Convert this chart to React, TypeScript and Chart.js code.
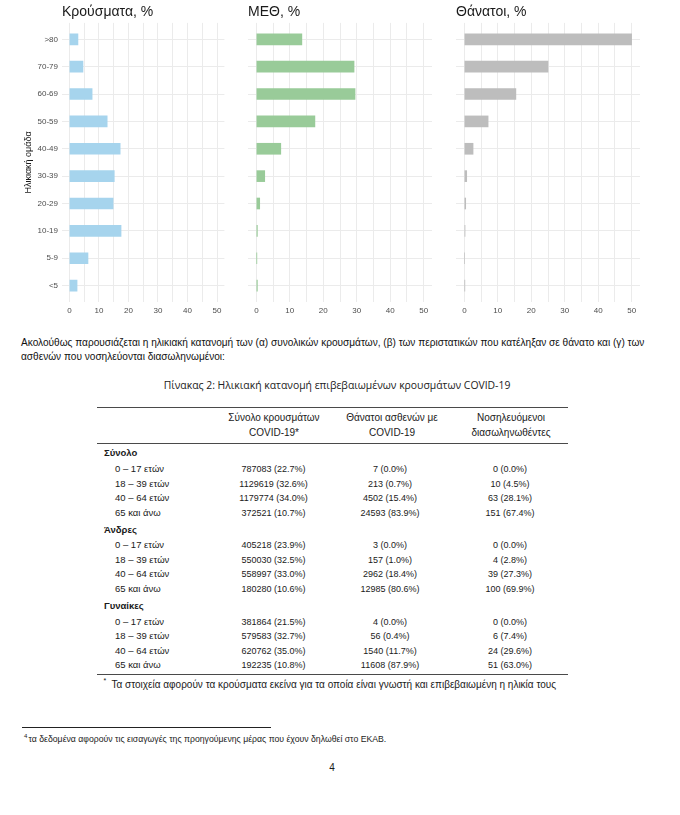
import React, { useEffect, useRef } from "react";
import { Chart, registerables } from "chart.js";

Chart.register(...registerables);

const FONT = "'Liberation Sans', Arial, sans-serif";

// ---- chart data ----
const ageGroups = [">80", "70-79", "60-69", "50-59", "40-49", "30-39", "20-29", "10-19", "5-9", "<5"];
const casesPct = [2.9, 4.6, 7.7, 12.8, 17.2, 15.2, 14.8, 17.5, 6.3, 2.6];
const icuPct = [13.6, 29.2, 29.5, 17.5, 7.3, 2.5, 1.0, 0.3, 0.1, 0.3];
const deathsPct = [50.0, 25.0, 15.4, 7.1, 2.6, 0.7, 0.4, 0.2, 0.0, 0.1];
const xGridValues = [0, 5, 10, 15, 20, 25, 30, 35, 40, 45, 50];
const panelTitles = ["Κρούσματα, %", "ΜΕΘ, %", "Θάνατοι, %"];
const yAxisTitle = "Ηλικιακή ομάδα";

// ---- table data ----
const tableGroups = ["Σύνολο", "Άνδρες", "Γυναίκες"];
const tableAges = ["0 – 17 ετών", "18 – 39 ετών", "40 – 64 ετών", "65 και άνω"];
const casesCount = [
  [787083, 1129619, 1179774, 372521],
  [405218, 550030, 558997, 180280],
  [381864, 579583, 620762, 192235],
];
const casesShare = [
  [22.7, 32.6, 34.0, 10.7],
  [23.9, 32.5, 33.0, 10.6],
  [21.5, 32.7, 35.0, 10.8],
];
const deathsCount = [
  [7, 213, 4502, 24593],
  [3, 157, 2962, 12985],
  [4, 56, 1540, 11608],
];
const deathsShare = [
  [0.0, 0.7, 15.4, 83.9],
  [0.0, 1.0, 18.4, 80.6],
  [0.0, 0.4, 11.7, 87.9],
];
const intubCount = [
  [0, 10, 63, 151],
  [0, 4, 39, 100],
  [0, 6, 24, 51],
];
const intubShare = [
  [0.0, 4.5, 28.1, 67.4],
  [0.0, 2.8, 27.3, 69.9],
  [0.0, 7.4, 29.6, 63.0],
];
const headerLines = [
  ["Σύνολο κρουσμάτων", "COVID-19*"],
  ["Θάνατοι ασθενών με", "COVID-19"],
  ["Νοσηλευόμενοι", "διασωληνωθέντες"],
];

const introLines = [
  "Ακολούθως παρουσιάζεται η ηλικιακή κατανομή των (α) συνολικών κρουσμάτων, (β) των περιστατικών που κατέληξαν σε θάνατο και (γ) των",
  "ασθενών που νοσηλεύονται διασωληνωμένοι:",
];
const captionText = "Πίνακας 2: Ηλικιακή κατανομή επιβεβαιωμένων κρουσμάτων COVID-19";
const tableNote = "Τα στοιχεία αφορούν τα κρούσματα εκείνα για τα οποία είναι γνωστή και επιβεβαιωμένη η ηλικία τους";
const pageNote = "τα δεδομένα αφορούν τις εισαγωγές της προηγούμενης μέρας που έχουν δηλωθεί στο ΕΚΑΒ.";

type PanelProps = {
  title: string;
  values: number[];
  color: string;
  showY: boolean;
  left: number;
  width: number;
};

const CH = 316;

function Panel({ title, values, color, showY, left, width }: PanelProps) {
  const ref = useRef<HTMLCanvasElement>(null);
  useEffect(() => {
    const chart = new Chart(ref.current!, {
      type: "bar",
      data: {
        datasets: [
          {
            data: values.map((v, i) => ({ x: v, y: i })),
            backgroundColor: color,
            borderWidth: 0,
            barThickness: 11,
          },
        ],
      },
      options: {
        indexAxis: "y",
        animation: false,
        responsive: false,
        events: [],
        layout: { padding: 0 },
        plugins: {
          legend: { display: false },
          tooltip: { enabled: false },
          title: {
            display: true,
            text: title,
            align: "start",
            fullSize: false,
            color: "#1a1a1a",
            font: { family: FONT, size: 14, weight: "normal" },
            padding: { top: 3.3, bottom: 2.8 },
          },
        },
        scales: {
          x: {
            type: "linear",
            min: -2.5,
            max: 52.5,
            offset: false,
            afterBuildTicks: (s: any) => {
              s.ticks = xGridValues.map((v) => ({ value: v }));
            },
            afterFit: (s: any) => {
              s.height = 14;
            },
            ticks: {
              autoSkip: false,
              maxRotation: 0,
              padding: 3.5,
              color: "#4d4d4d",
              font: { family: FONT, size: 8 },
              callback: (v: any) => (Number(v) % 10 === 0 ? String(v) : ""),
            },
            grid: { color: "#ebebeb", lineWidth: 1, drawTicks: false, offset: false },
            border: { display: false },
          },
          y: {
            type: "linear",
            reverse: true,
            min: -0.6,
            max: 9.6,
            offset: false,
            afterBuildTicks: (s: any) => {
              s.ticks = ageGroups.map((_, i) => ({ value: i }));
            },
            afterFit: (s: any) => {
              s.width = showY ? 62 : 0;
            },
            ticks: {
              display: showY,
              autoSkip: false,
              padding: 4,
              color: "#4d4d4d",
              font: { family: FONT, size: 8 },
              callback: (v: any) => ageGroups[Number(v)] ?? "",
            },
            title: {
              display: showY,
              text: yAxisTitle,
              color: "#1a1a1a",
              font: { family: FONT, size: 9 },
              padding: { top: 23.6, bottom: 0 },
            },
            grid: { color: "#ebebeb", lineWidth: 1, drawTicks: false, offset: false },
            border: { display: false },
          },
        },
      } as any,
    });
    return () => chart.destroy();
  }, []);
  return (
    <canvas
      ref={ref}
      width={width}
      height={CH}
      style={{ position: "absolute", left, top: 0, width, height: CH }}
    />
  );
}

const txt = (
  top: number,
  left: number,
  text: string,
  size: number,
  extra: React.CSSProperties = {}
) => (
  <div
    style={{
      position: "absolute",
      top: top - 7,
      left,
      height: 14,
      lineHeight: "14px",
      fontSize: size,
      fontFamily: FONT,
      color: "#1a1a1a",
      whiteSpace: "nowrap",
      ...extra,
    }}
  >
    {text}
  </div>
);

const centered = (top: number, cx: number, text: string, size: number, extra: React.CSSProperties = {}) =>
  txt(top, cx - 200, text, size, { width: 400, textAlign: "center", ...extra });

const rule = (top: number, left: number, width: number, color = "#4a4a4a", h = 1) => (
  <div style={{ position: "absolute", top, left, width, height: h, background: color }} />
);

const fmt = (n: number, p: number) => `${n} (${p.toFixed(1)}%)`;

export default function App() {
  const colX = [273.5, 390, 510];
  const rows: React.ReactNode[] = [];
  tableGroups.forEach((g, gi) => {
    const gy = 453.3 + gi * 76.3;
    rows.push(<React.Fragment key={"g" + gi}>{txt(gy, 104, g, 9.5, { fontWeight: 700 })}</React.Fragment>);
    tableAges.forEach((a, ri) => {
      const ry = gy + 15.7 + ri * 14.5;
      rows.push(
        <React.Fragment key={`r${gi}-${ri}`}>
          {txt(ry, 115, a, 9.5)}
          {centered(ry, colX[0], fmt(casesCount[gi][ri], casesShare[gi][ri]), 9)}
          {centered(ry, colX[1], fmt(deathsCount[gi][ri], deathsShare[gi][ri]), 9)}
          {centered(ry, colX[2], fmt(intubCount[gi][ri], intubShare[gi][ri]), 9)}
        </React.Fragment>
      );
    });
  });

  return (
    <div
      style={{
        position: "absolute",
        left: 0,
        top: 0,
        width: 680,
        height: 815,
        background: "#ffffff",
        overflow: "hidden",
      }}
    >
      <Panel title={panelTitles[0]} values={casesPct} color="#a6d4ed" showY={true} left={0} width={225} />
      <Panel title={panelTitles[1]} values={icuPct} color="#99cb99" showY={false} left={248} width={184} />
      <Panel title={panelTitles[2]} values={deathsPct} color="#bdbdbd" showY={false} left={456} width={184} />

      {txt(342.7, 21, introLines[0], 10.1, { color: "#111" })}
      {txt(357.3, 21, introLines[1], 10.1, { color: "#111" })}
      {centered(385, 337, captionText, 10.4, { color: "#222", fontFamily: "'Open Sans', 'Noto Sans', sans-serif" })}

      {rule(407, 97, 471)}
      {headerLines.map((ls, ci) => (
        <React.Fragment key={"h" + ci}>
          {centered(418.3, [274, 392, 511][ci], ls[0], 10)}
          {centered(433.3, [274, 392, 511][ci], ls[1], 10)}
        </React.Fragment>
      ))}
      {rule(443, 97, 471)}
      {rows}
      {rule(674, 97, 471)}
      {txt(681, 103.5, "*", 7)}
      {txt(685, 111.5, tableNote, 10)}

      {rule(726.5, 21.5, 249, "#222")}
      {txt(736, 24, "4", 6)}
      {txt(739, 28.5, pageNote, 8.7)}
      {centered(768.3, 332, "4", 10)}
    </div>
  );
}
